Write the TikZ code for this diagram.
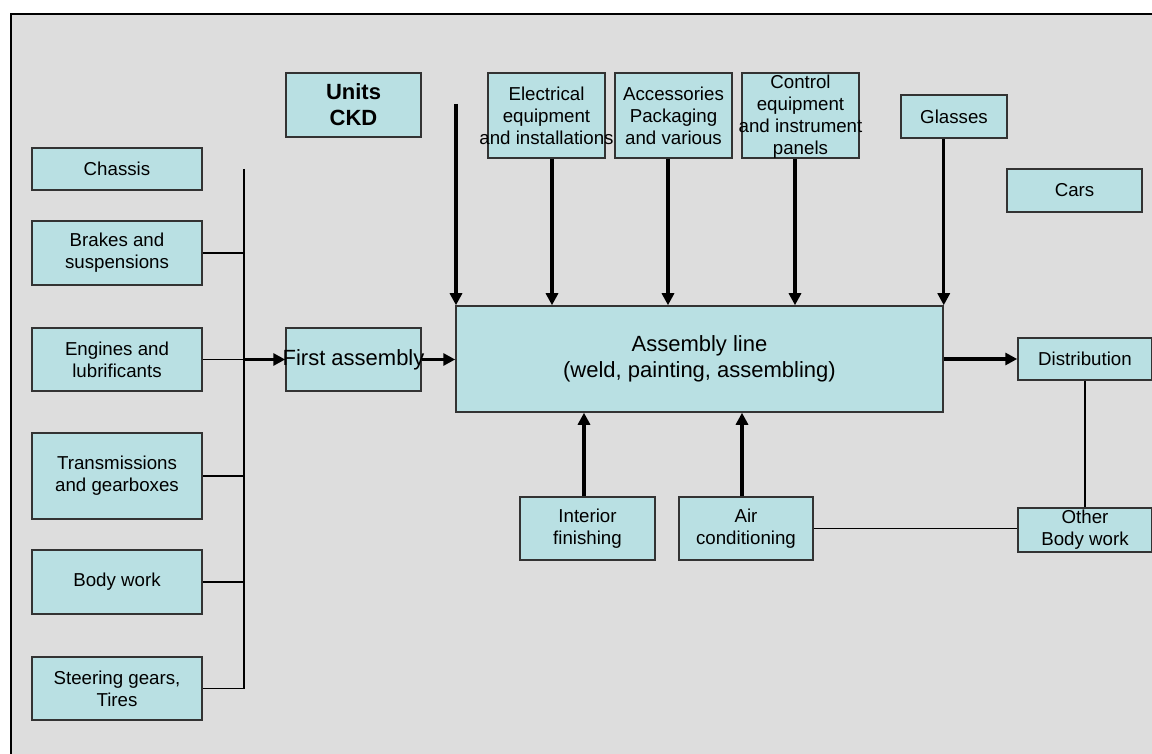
\documentclass[tikz,border=0pt]{standalone}
\usepackage{fontspec}
\setmainfont{Liberation Sans}
\usetikzlibrary{arrows.meta}
\definecolor{bggray}{HTML}{DDDDDD}
\definecolor{boxblue}{HTML}{B9E0E3}
\definecolor{edgecol}{HTML}{333333}
\begin{document}
\begin{tikzpicture}[x=1pt,y=-1pt,
  box/.style={draw=edgecol, line width=1.5pt, fill=boxblue, inner sep=0pt, align=center,
    font=\fontsize{18.7}{22}\selectfont, text=black},
  lbl/.style={inner sep=0pt, align=center, font=\fontsize{18.7}{22}\selectfont, text=black},
  biglbl/.style={inner sep=0pt, align=center, font=\fontsize{22}{26}\selectfont, text=black},
  big/.style={font=\fontsize{22}{26}\selectfont},
  arr/.style={line width=3.2pt, -{Triangle[length=12pt,width=12pt]}},
  thinline/.style={line width=1.6pt, draw=black}]
\useasboundingbox (0,0) rectangle (1152,754);
\clip (0,0) rectangle (1152,754);
\fill[white] (0,0) rectangle (1152,754);
\draw[line width=2.2pt, fill=bggray] (11,14) rectangle (1175,775);

% left column
\node[box, minimum width=170pt, minimum height=42pt] (chassis) at (117,169) {Chassis};
\node[box, minimum width=170pt, minimum height=64pt] (brakes) at (117,253) {Brakes and\\suspensions};
\node[box, minimum width=170pt, minimum height=63pt] (engines) at (117,359.5) {Engines and\\lubrificants};
\node[box, minimum width=170pt, minimum height=86pt] (trans) at (117,476) {Transmissions\\and gearboxes};
\node[box, minimum width=170pt, minimum height=64pt] (body) at (117,582) {Body work};
\node[box, minimum width=170pt, minimum height=63pt] (steer) at (117,688.5) {Steering gears,\\Tires};

% middle
\node[box, minimum width=135pt, minimum height=63pt,
  label={[biglbl]center:First assembly}] (first) at (353.5,359.5) {};
\node[box, font=\fontsize{22}{26}\selectfont\bfseries, minimum width=135pt, minimum height=64pt] (units) at (353.5,105) {Units\\CKD};
\node[box, big, minimum width=487pt, minimum height=106pt] (asm) at (699.5,359) {Assembly line\\(weld, painting, assembling)};

% top suppliers
\node[box, minimum width=117pt, minimum height=85pt,
  label={[lbl]center:Electrical\\equipment\\and installations}] (elec) at (546.5,115.5) {};
\node[box, minimum width=117pt, minimum height=85pt,
  label={[lbl]center:Accessories\\Packaging\\and various}] (acc) at (673.5,115.5) {};
\node[box, minimum width=117pt, minimum height=85pt,
  label={[lbl, yshift=-1.5pt]center:Control\\equipment\\and instrument\\panels}] (ctrl) at (800.5,115.5) {};
\node[box, minimum width=106pt, minimum height=43pt] (glasses) at (954,116.5) {Glasses};
\node[box, minimum width=135pt, minimum height=43pt] (cars) at (1074.5,190.5) {Cars};

% right
\node[box, minimum width=134pt, minimum height=42pt] (dist) at (1085,359) {Distribution};
\node[box, minimum width=134pt, minimum height=44pt] (other) at (1085,530) {Other\\Body work};

% bottom
\node[box, minimum width=135pt, minimum height=63pt] (interior) at (587.5,528.5) {Interior\\finishing};
\node[box, minimum width=134pt, minimum height=63pt] (air) at (746,528.5) {Air\\conditioning};

% bus on the left
\coordinate (bustop) at (244,169);
\draw[thinline] (bustop) -- (bustop |- steer.east) -- (steer.east);
\draw[thinline] (brakes.east) -- (brakes.east -| bustop);
\draw[thinline] (engines.east) -- (engines.east -| bustop);
\draw[thinline] (trans.east) -- (trans.east -| bustop);
\draw[thinline] (body.east) -- (body.east -| bustop);
\draw[arr] (engines.east -| bustop) -- (first.west);
\draw[arr] (first.east) -- (first.east -| asm.west);

% arrows from top
\coordinate (ckdin) at (456,104);
\draw[arr] (ckdin) -- (ckdin |- asm.north);
\draw[arr] ([xshift=5.5pt]elec.south) -- ([xshift=5.5pt]elec.south |- asm.north);
\draw[arr] ([xshift=-5.5pt]acc.south) -- ([xshift=-5.5pt]acc.south |- asm.north);
\draw[arr] ([xshift=-5.5pt]ctrl.south) -- ([xshift=-5.5pt]ctrl.south |- asm.north);
\draw[arr] (glasses.south -| asm.north east) -- (asm.north east);

% arrows from bottom
\draw[arr] ([xshift=-3.5pt]interior.north) -- ([xshift=-3.5pt]interior.north |- asm.south);
\draw[arr] ([xshift=-4pt]air.north) -- ([xshift=-4pt]air.north |- asm.south);

% right side
\draw[arr] (asm.east) -- (dist.west);
\draw[thinline] (dist.south) -- (other.north);
\draw[thinline] (air.east) -- (air.east -| other.west);
\end{tikzpicture}
\end{document}
